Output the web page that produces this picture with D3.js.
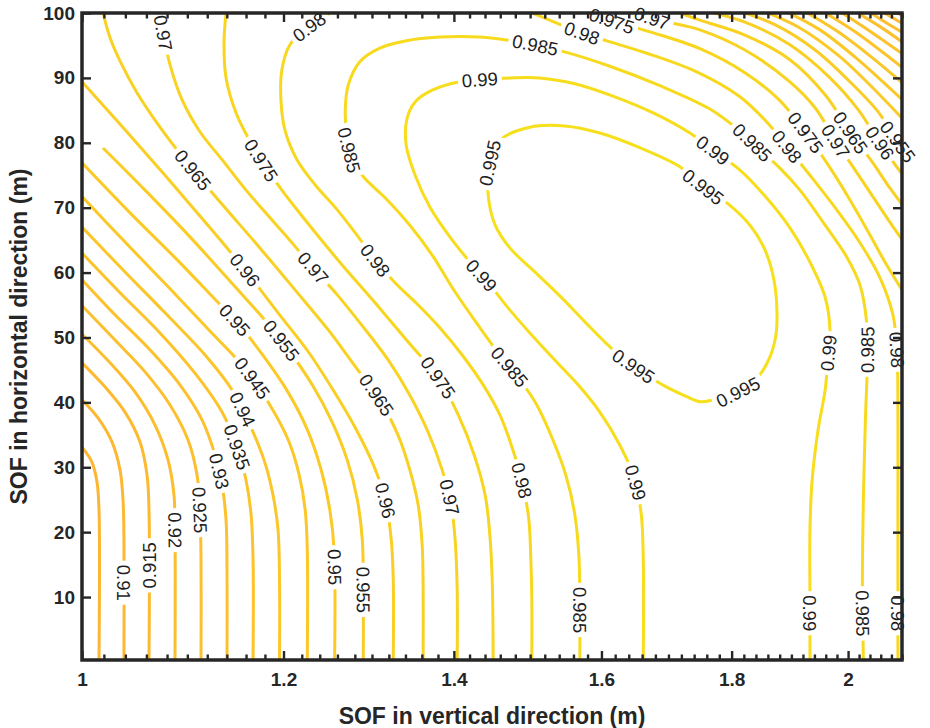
<!DOCTYPE html>
<html>
<head>
<meta charset="utf-8">
<script src="https://cdn.jsdelivr.net/npm/d3@7"></script>
<style>
  body { margin: 0; background: #fff; }
  svg { display: block; font-family: "Liberation Sans", Arial, Helvetica, sans-serif; }
</style>
</head>
<body>
<svg id="chart" width="930" height="728"></svg>
<script>
// contour level of every traced line (same order as contourPaths)
const levels = [
    0.905, 0.91, 0.915, 0.92, 0.925, 0.93, 0.935, 0.94, 0.945, 0.95,
    0.955, 0.96, 0.965, 0.97, 0.975, 0.98, 0.985, 0.99, 0.995,
    0.98, 0.975, 0.97, 0.965, 0.96, 0.955, 0.95, 0.945, 0.94, 0.935,
    0.93, 0.925, 0.92, 0.915, 0.91
]

// [SOF vertical (m), SOF horizontal (m)]
const contourPaths = [
    [[1,33.1],[1.009,30.8],[1.0137,27.7],[1.0155,23.4],[1.0155,0.3]],
    [[1,40.4],[1.0146,37.6],[1.0275,33.9],[1.035,29.6],[1.0378,25.0],[1.0387,18.8],[1.0387,0.3]],
    [[1,46.1],[1.021,42.4],[1.0397,38.5],[1.0539,33.9],[1.0606,28.8],[1.0625,23.4],[1.0625,0.3]],
    [[1,50.5],[1.0257,46.1],[1.0491,41.6],[1.0683,36.5],[1.081,31.1],[1.0868,25.7],[1.0878,20.3],[1.0878,0.3]],
    [[1,54.9],[1.0303,49.6],[1.0587,44.7],[1.0829,39.6],[1.1007,34.2],[1.1097,28.8],[1.1126,23.4],[1.1137,15.7],[1.1137,0.3]],
    [[1,58.9],[1.0303,53.5],[1.0634,48.1],[1.0927,42.7],[1.1147,37.3],[1.1279,31.9],[1.1351,27.3],[1.1392,21.9],[1.1402,14.2],[1.1402,0.3]],
    [[1,63.0],[1.035,56.9],[1.0731,50.7],[1.1076,44.5],[1.1351,38.5],[1.1506,33.1],[1.16,28.0],[1.1653,22.7],[1.1674,15.7],[1.1674,0.3]],
    [[1,67.0],[1.0397,60.1],[1.078,53.8],[1.1178,47.3],[1.1455,41.9],[1.1641,36.5],[1.1791,31.1],[1.1887,25.7],[1.1941,20.3],[1.1957,12.6],[1.1957,0.3]],
    [[1,71.7],[1.0397,64.7],[1.0829,57.5],[1.1227,51.0],[1.159,45.2],[1.1853,39.6],[1.2052,34.2],[1.2172,28.8],[1.2238,23.4],[1.2261,17.3],[1.2261,0.3]],
    [[1,76.9],[1.0444,69.2],[1.0878,62.3],[1.1227,56.7],[1.1536,51.8],[1.1801,46.8],[1.2052,41.5],[1.2261,35.8],[1.2416,29.6],[1.2514,23.4],[1.2562,17.3],[1.2568,0.3]],
    [[1.0192,79.2],[1.0587,72.7],[1.1026,65.5],[1.1486,57.8],[1.1833,52.1],[1.207,47.8],[1.2316,42.7],[1.2539,37.0],[1.2713,31.1],[1.2829,25.0],[1.2887,18.8],[1.2898,12.6],[1.2898,0.3]],
    [[1,89.4],[1.0397,82.0],[1.078,75.0],[1.1178,67.8],[1.159,60.4],[1.1941,53.8],[1.2272,47.8],[1.2551,41.9],[1.2805,36.1],[1.3016,30.4],[1.3158,25.0],[1.3229,18.8],[1.3253,12.6],[1.3253,0.3]],
    [[1.0192,100],[1.0257,96.2],[1.0359,92.3],[1.051,87.7],[1.0731,82.4],[1.1056,75.8],[1.1382,70.0],[1.1746,63.8],[1.2128,57.3],[1.2494,51.2],[1.2817,45.3],[1.3093,40.4],[1.3309,35.0],[1.3453,29.6],[1.3555,24.2],[1.3604,18.0],[1.3616,11.1],[1.3616,0.3]],
    [[1.0731,100],[1.0771,96.2],[1.0829,92.0],[1.0948,86.6],[1.1126,81.7],[1.1351,77.4],[1.16,72.7],[1.1876,68.1],[1.2128,64.0],[1.2327,60.7],[1.2596,56.6],[1.2898,51.6],[1.3194,46.5],[1.3453,41.1],[1.3678,35.4],[1.3852,29.6],[1.3966,24.2],[1.4016,18.8],[1.4042,11.1],[1.4042,0.3]],
    [[1.1392,100],[1.1371,95.4],[1.1392,90.0],[1.1496,84.6],[1.1621,80.8],[1.178,76.9],[1.1982,72.7],[1.2238,68.1],[1.2627,61.6],[1.3039,55.3],[1.3433,49.3],[1.3802,43.8],[1.4054,38.1],[1.4259,31.9],[1.4402,25.7],[1.4463,19.6],[1.4494,12.6],[1.4507,0.3]],
    [[1.2573,100.5],[1.2238,97.4],[1.207,95.1],[1.1982,91.2],[1.1972,86.6],[1.2015,82.0],[1.2147,77.4],[1.235,73.5],[1.2596,69.7],[1.284,65.5],[1.3039,61.9],[1.3277,58.4],[1.3555,55.0],[1.3823,51.5],[1.4105,47.3],[1.4376,42.7],[1.4594,38.1],[1.4767,32.7],[1.4902,27.3],[1.4983,21.9],[1.501,15.7],[1.5023,9.6],[1.5023,0.3]],
    [[1.569,0.3],[1.569,9.6],[1.5676,16.5],[1.5619,22.7],[1.5492,28.8],[1.5313,34.2],[1.5091,39.6],[1.4861,43.5],[1.4594,47.3],[1.4311,51.9],[1.4016,57.0],[1.3728,62.7],[1.3453,67.3],[1.3158,71.5],[1.291,74.6],[1.2771,77.4],[1.2713,80.4],[1.269,85.1],[1.2724,88.9],[1.2858,92.5],[1.3093,94.6],[1.3396,95.7],[1.3823,96.3],[1.4332,96.3],[1.4861,95.5],[1.5409,94.2],[1.6122,91.8],[1.6869,88.8],[1.765,85.2],[1.8136,81.8],[1.8467,78.9],[1.8804,76.1],[1.9148,72.7],[1.9589,67.3],[1.9983,62.3],[2.0216,58.1],[2.0334,52.7],[2.0352,46.5],[2.0316,37.3],[2.0279,25.0],[2.0261,12.6],[2.0279,0.3]],
    [[1.6617,0.3],[1.6617,15.7],[1.6587,22.7],[1.6482,28.4],[1.6269,33.4],[1.5977,38.5],[1.569,42.4],[1.5341,46.5],[1.4996,50.7],[1.4701,54.6],[1.4463,58.1],[1.4234,61.2],[1.3949,65.5],[1.3699,70.1],[1.3518,75.0],[1.3408,79.7],[1.342,83.8],[1.3518,86.3],[1.3728,88.1],[1.4075,89.4],[1.4402,89.8],[1.4727,90.0],[1.5132,90.0],[1.5619,89.1],[1.6166,87.2],[1.6768,84.6],[1.7333,81.5],[1.7734,78.6],[1.8136,75.8],[1.8551,71.8],[1.8975,66.9],[1.9322,61.6],[1.9589,56.2],[1.9675,51.2],[1.9635,46.5],[1.9589,41.9],[1.9465,35.8],[1.936,28.0],[1.9322,20.3],[1.9322,9.6],[1.9322,0.3]],
    [[1.4996,82.4],[1.5478,82.6],[1.5977,81.5],[1.6527,79.4],[1.7177,76.3],[1.7543,73.2],[1.7928,70.7],[1.8301,67.3],[1.8551,63.5],[1.8702,58.9],[1.8753,54.2],[1.8736,50.4],[1.8635,47.0],[1.8434,43.9],[1.8103,41.6],[1.7702,40.4],[1.7491,40.1],[1.7258,41.0],[1.6945,42.5],[1.6647,44.4],[1.6347,46.5],[1.6049,49.3],[1.5762,52.4],[1.5436,56.1],[1.5064,60.1],[1.4727,63.8],[1.4533,67.3],[1.4441,72.0],[1.4463,76.9],[1.4594,80.4]],
    [[1.4861,100.8],[1.5201,99.2],[1.5719,96.9],[1.6079,95.7],[1.6669,93.8],[1.7448,90.9],[1.8136,87.1],[1.8551,83.5],[1.8924,79.4],[1.9322,75.0],[1.9767,70.0],[2.0216,64.6],[2.0586,59.2],[2.0828,53.5],[2.0904,48.1],[2.0923,37.3],[2.0923,25.0],[2.0923,12.6],[2.0923,0.3]],
    [[1.569,100.8],[1.6122,98.9],[1.6717,97.1],[1.7491,94.5],[1.8217,90.8],[1.8804,86.5],[1.9255,81.5],[1.9642,76.6],[2.0034,71.2],[2.04,65.8],[2.0708,61.2],[2.1057,56.6]],
    [[1.6417,100.8],[1.6748,99.2],[1.7491,97.4],[1.8217,94.3],[1.8975,89.4],[1.9412,85.4],[1.9767,80.4],[2.0128,75.8],[2.0493,71.2],[2.0809,67.3],[2.1114,63.8]],
    [[1.6945,100.8],[1.7491,98.9],[1.8217,96.6],[1.8975,92.8],[1.9589,87.4],[2.0073,81.2],[2.0438,77.1],[2.0773,73.0],[2.1114,69.3]],
    [[1.7491,100.5],[1.8217,98.6],[1.8975,95.1],[1.9675,90.0],[2.0183,85.1],[2.0549,80.4],[2.0828,77.1],[2.1114,74.0]],
    [[1.8054,100.5],[1.8719,98.2],[1.9412,94.3],[2.0034,89.4],[2.0549,84.8],[2.0866,80.8],[2.1114,78.1]],
    [[1.8467,100.5],[1.9148,97.7],[1.982,93.5],[2.04,88.9],[2.1114,82.8]],
    [[1.8838,100.5],[1.9498,97.4],[2.0128,93.2],[2.1114,85.8]],
    [[1.9182,100.5],[1.982,97.1],[2.04,93.4],[2.1114,88.5]],
    [[1.9498,100.5],[2.0128,97.1],[2.1114,90.9]],
    [[1.9802,100.5],[2.04,97.2],[2.1114,93.1]],
    [[2.0073,100.5],[2.0586,97.9],[2.1114,94.9]],
    [[2.0334,100.5],[2.0679,98.6],[2.1114,96.5]],
    [[2.0568,100.5],[2.1114,97.9]],
    [[2.0791,100.5],[2.1114,99.1]]
]

// closed rings
const closedPaths = [18]

// inline labels: [path index, SOF vertical, SOF horizontal]
const labelSpots = [
    [1,1.0378,12.2],[2,1.0615,14.9],[3,1.0878,20.3],[4,1.1106,23.4],[5,1.1299,29.3],
    [6,1.1506,33.1],[7,1.159,39.1],[8,1.1674,43.8],[9,1.1486,52.7],[9,1.2551,14.6],
    [10,1.1982,49.6],[10,1.2887,11.1],[11,1.159,60.4],[11,1.3194,25.0],
    [12,1.1056,75.8],[12,1.3093,41.5],[13,1.076,96.9],[13,1.2327,60.7],[13,1.3949,25.4],
    [14,1.1769,77.4],[14,1.3802,43.8],[15,1.229,97.7],[15,1.3039,61.9],[15,1.4902,28.0],
    [16,1.2742,78.9],[16,1.4727,45.5],[16,1.569,8.0],[16,1.5064,94.8],[16,1.8335,80.0],
    [16,2.0363,48.1],[16,2.0261,7.5],
    [17,1.4332,89.7],[17,1.4332,59.3],[17,1.6495,27.6],[17,1.7702,78.9],[17,1.9642,47.6],[17,1.929,7.5],
    [18,1.4463,76.9],[18,1.7543,73.2],[18,1.8103,41.6],[18,1.6466,45.5],
    [19,1.5719,96.9],[19,1.8924,79.4],[19,2.0904,48.1],[19,2.0904,7.5],
    [20,1.6152,98.8],[20,1.9238,81.5],[21,1.6748,99.2],[21,1.9802,80.4],
    [22,2.0034,81.5],[23,2.0586,80.0],[24,2.0962,80.4]
]

const xMajorTicks = [1, 1.2, 1.4, 1.6, 1.8, 2]
const xTickLabels = ["1", "1.2", "1.4", "1.6", "1.8", "2"]
const yTicks = [10, 20, 30, 40, 50, 60, 70, 80, 90, 100]

const axisColor = "#262626"
const labelSize = 18.5
const plot = { left: 82, right: 902, top: 13, bottom: 660 }

const svg = d3.select("#chart")

const x = d3.scaleLog().domain([1, 2.1]).range([plot.left, plot.right])
const y = d3.scaleLinear().domain([0.3, 100]).range([plot.bottom, plot.top])

const lineColor = d3.scaleLinear()
    .domain([0.905, 0.95, 0.995])
    .range(["#fdb632", "#fbca27", "#f6df1b"])

const defs = svg.append("defs")
defs.append("clipPath").attr("id", "plot-clip")
    .append("rect")
    .attr("x", plot.left).attr("y", plot.top)
    .attr("width", plot.right - plot.left)
    .attr("height", plot.bottom - plot.top)

const openLine = d3.line()
    .x((d) => x(d[0])).y((d) => y(d[1]))
    .curve(d3.curveCatmullRom.alpha(0.5))
const ringLine = d3.line()
    .x((d) => x(d[0])).y((d) => y(d[1]))
    .curve(d3.curveCatmullRomClosed.alpha(0.5))

const lineG = svg.append("g").attr("clip-path", "url(#plot-clip)")
const paths = lineG.selectAll("path")
    .data(contourPaths)
    .join("path")
    .attr("d", (pts, i) => (closedPaths.includes(i) ? ringLine : openLine)(pts))
    .attr("fill", "none")
    .attr("stroke", (pts, i) => lineColor(levels[i]))
    .attr("stroke-width", 3)
    .attr("stroke-linejoin", "round")

// labels sit on the drawn curve, turned along it
const labelG = svg.append("g")
    .attr("font-size", labelSize)
    .attr("fill", "#1e1e1e")
const gaps = contourPaths.map(() => [])
const pathNodes = paths.nodes()

labelSpots.forEach(([li, lx, ly]) => {
    const node = pathNodes[li]
    const total = node.getTotalLength()
    const tx = x(lx), ty = y(ly)
    let best = 0, bestD = Infinity
    for (let s = 0; s <= total; s += 2) {
        const p = node.getPointAtLength(s)
        const d = (p.x - tx) ** 2 + (p.y - ty) ** 2
        if (d < bestD) { bestD = d; best = s }
    }
    for (let s = Math.max(0, best - 2); s <= Math.min(total, best + 2); s += 0.25) {
        const p = node.getPointAtLength(s)
        const d = (p.x - tx) ** 2 + (p.y - ty) ** 2
        if (d < bestD) { bestD = d; best = s }
    }
    const p = node.getPointAtLength(best)
    const a = node.getPointAtLength(Math.max(0, best - 6))
    const b = node.getPointAtLength(Math.min(total, best + 6))
    let ang = Math.atan2(b.y - a.y, b.x - a.x) * 180 / Math.PI
    if (ang > 90) ang -= 180
    if (ang <= -90) ang += 180

    const t = labelG.append("text")
        .attr("transform", `translate(${p.x},${p.y}) rotate(${ang})`)
        .attr("text-anchor", "middle")
        .attr("dy", "0.36em")
        .text(String(levels[li]))
    gaps[li].push({ x: p.x, y: p.y, ang, w: t.node().getComputedTextLength() })
})

// break each line where its own labels sit
gaps.forEach((list, i) => {
    if (!list.length) return
    const m = defs.append("mask").attr("id", `gap-${i}`)
        .attr("maskUnits", "userSpaceOnUse")
        .attr("x", 0).attr("y", 0).attr("width", 930).attr("height", 728)
    m.append("rect").attr("width", 930).attr("height", 728).attr("fill", "white")
    list.forEach((g) => {
        m.append("rect")
            .attr("transform", `translate(${g.x},${g.y}) rotate(${g.ang})`)
            .attr("x", -g.w / 2 - 4).attr("y", -10)
            .attr("width", g.w + 8).attr("height", 20)
            .attr("fill", "black")
    })
    d3.select(pathNodes[i]).attr("mask", `url(#gap-${i})`)
})

// axes: ticks point inward on all four sides
const minorX = d3.range(51, 106).map((k) => k / 50)
    .filter((v) => !xMajorTicks.some((m) => Math.abs(m - v) < 1e-9))

function styleAxis(g) {
    g.select(".domain").remove()
    g.selectAll(".tick line").attr("stroke", axisColor).attr("stroke-width", 2.4)
    g.selectAll(".tick text")
        .attr("fill", axisColor)
        .attr("font-size", 19)
        .attr("font-weight", "bold")
        .attr("font-family", "Liberation Sans, Arial, sans-serif")
}

svg.append("g").attr("transform", `translate(0,${plot.bottom})`)
    .call(d3.axisBottom(x).tickValues(minorX).tickSize(-5.5).tickFormat(""))
    .call(styleAxis)
svg.append("g").attr("transform", `translate(0,${plot.top})`)
    .call(d3.axisTop(x).tickValues(minorX).tickSize(-5.5).tickFormat(""))
    .call(styleAxis)
svg.append("g").attr("transform", `translate(0,${plot.bottom})`)
    .call(d3.axisBottom(x).tickValues(xMajorTicks).tickSize(-9).tickPadding(13)
        .tickFormat((d, i) => xTickLabels[i]))
    .call(styleAxis)
svg.append("g").attr("transform", `translate(0,${plot.top})`)
    .call(d3.axisTop(x).tickValues(xMajorTicks).tickSize(-9).tickFormat(""))
    .call(styleAxis)
svg.append("g").attr("transform", `translate(${plot.left},0)`)
    .call(d3.axisLeft(y).tickValues(yTicks).tickSize(-9).tickPadding(7))
    .call(styleAxis)
svg.append("g").attr("transform", `translate(${plot.right},0)`)
    .call(d3.axisRight(y).tickValues(yTicks).tickSize(-9).tickFormat(""))
    .call(styleAxis)

svg.append("rect")
    .attr("x", plot.left).attr("y", plot.top)
    .attr("width", plot.right - plot.left)
    .attr("height", plot.bottom - plot.top)
    .attr("fill", "none")
    .attr("stroke", axisColor)
    .attr("stroke-width", 3.5)

svg.append("text")
    .attr("x", (plot.left + plot.right) / 2).attr("y", 724)
    .attr("text-anchor", "middle")
    .attr("font-size", 23).attr("font-weight", "bold").attr("fill", axisColor)
    .text("SOF in vertical direction (m)")

svg.append("text")
    .attr("transform", `translate(27,${(plot.top + plot.bottom) / 2}) rotate(-90)`)
    .attr("text-anchor", "middle")
    .attr("font-size", 23).attr("font-weight", "bold").attr("fill", axisColor)
    .text("SOF in horizontal direction (m)")
</script>
</body>
</html>
